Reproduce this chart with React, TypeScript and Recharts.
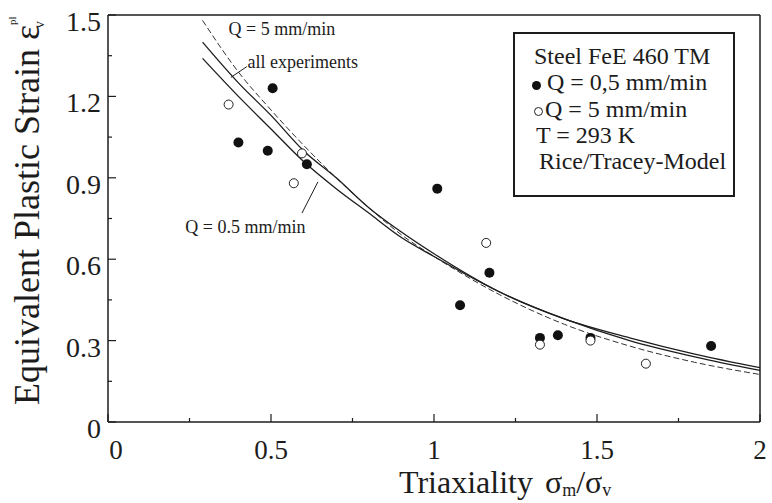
import { ComposedChart, Line, Scatter, XAxis, YAxis, ReferenceLine, ReferenceDot } from "recharts"

// fitted Rice/Tracey curves
const curveX = [0.29, 0.4, 0.5, 0.6, 0.7, 0.8, 0.9, 1.0, 1.2, 1.4, 1.6, 1.8, 2.0]
const fitAll = [1.4, 1.25, 1.13, 1.0, 0.9, 0.79, 0.7, 0.62, 0.48, 0.38, 0.31, 0.25, 0.2]
const fitQ05 = [1.34, 1.2, 1.08, 0.96, 0.86, 0.77, 0.68, 0.61, 0.48, 0.38, 0.3, 0.24, 0.19]
const fitQ5 = [1.48, 1.29, 1.15, 1.02, 0.9, 0.79, 0.69, 0.61, 0.47, 0.36, 0.28, 0.22, 0.175]

// measured points
const q05X = [0.4, 0.49, 0.505, 0.61, 1.01, 1.08, 1.17, 1.325, 1.38, 1.48, 1.85]
const q05Y = [1.03, 1.0, 1.23, 0.95, 0.86, 0.43, 0.55, 0.31, 0.32, 0.31, 0.28]
const q5X = [0.37, 0.57, 0.595, 1.16, 1.325, 1.48, 1.65]
const q5Y = [1.17, 0.88, 0.99, 0.66, 0.285, 0.3, 0.215]

const xTicks = [0, 0.25, 0.5, 0.75, 1, 1.25, 1.5, 1.75, 2]
const xLabels = [0, 0.5, 1, 1.5, 2]
const yTicks = [0, 0.15, 0.3, 0.45, 0.6, 0.75, 0.9, 1.05, 1.2, 1.35, 1.5]
const yLabels = [0, 0.3, 0.6, 0.9, 1.2, 1.5]

const notes = [
  { x: 0.37, y: 1.45, text: "Q = 5 mm/min" },
  { x: 0.428, y: 1.325, text: "all experiments" },
  { x: 0.237, y: 0.72, text: "Q = 0.5 mm/min" },
]
const leaders = [
  [{ x: 0.426, y: 1.31 }, { x: 0.377, y: 1.27 }],
  [{ x: 0.595, y: 0.77 }, { x: 0.644, y: 0.885 }],
]

const legendLines = ["Steel FeE 460 TM", "Q = 0,5 mm/min", "Q = 5 mm/min", "T = 293 K", "Rice/Tracey-Model"]

const serif = "'Liberation Serif', 'Times New Roman', serif"
const ink = "#1c1c1c"

const toPts = (xs: number[], ys: number[]) => xs.map((x, i) => ({ x, y: ys[i] }))
const isLabel = (list: number[], v: number) => list.some((l) => Math.abs(l - v) < 1e-6)

const XTick = ({ x, y, payload }: any) => {
  const v = payload.value
  const major = isLabel(xLabels, v)
  return (
    <g>
      <line x1={x} x2={x} y1={y} y2={y - (major ? 8 : 4)} stroke={ink} strokeWidth={1.2} />
      {major && (
        <text x={x + (v === 0 ? 8 : 0)} y={y + 37} textAnchor="middle" fontFamily={serif} fontSize={27} fill={ink}>
          {String(v)}
        </text>
      )}
    </g>
  )
}

const YTick = ({ x, y, payload }: any) => {
  const v = payload.value
  const major = isLabel(yLabels, v)
  return (
    <g>
      <line x1={x} x2={x + (major ? 8 : 4)} y1={y} y2={y} stroke={ink} strokeWidth={1.2} />
      {major && (
        <text x={x - 7} y={y + 16} textAnchor="end" fontFamily={serif} fontSize={28} fill={ink}>
          {String(v)}
        </text>
      )}
    </g>
  )
}

const XTitle = ({ viewBox }: any) => (
  <text x={viewBox.x + 291} y={viewBox.y + 71} fontFamily={serif} fontSize={32} fill={ink}>
    Triaxiality
    <tspan dx={12}>σ</tspan>
    <tspan fontSize={18} dy={3}>m</tspan>
    <tspan dy={-3}>/σ</tspan>
    <tspan fontSize={18} dy={3}>v</tspan>
  </text>
)

const YTitle = ({ viewBox }: any) => {
  const bx = viewBox.x + 39
  const by = viewBox.y + viewBox.height - 17
  return (
    <text x={bx} y={by} transform={`rotate(-90, ${bx}, ${by})`} fontFamily={serif} fontSize={36} fill={ink}>
      Equivalent Plastic Strain ε
      <tspan fontSize={11} dy={-23}>pl</tspan>
      <tspan fontSize={15} dx={-12} dy={28}>v</tspan>
    </text>
  )
}

const FilledDot = ({ cx, cy }: any) => <circle cx={cx} cy={cy} r={5} fill="#111" />
const OpenDot = ({ cx, cy }: any) => <circle cx={cx} cy={cy} r={4.5} fill="#fff" stroke="#222" strokeWidth={1} />

export default function App() {
  return (
    <div style={{ position: "absolute", left: 0, top: 0, width: 772, height: 503, background: "#fff" }}>
      <ComposedChart width={772} height={503} margin={{ top: 15, right: 12, bottom: 0, left: 0 }}>
        <XAxis
          type="number"
          dataKey="x"
          domain={[0, 2]}
          ticks={xTicks}
          interval={0}
          height={81}
          tickSize={0}
          tickMargin={0}
          tickLine={false}
          tick={<XTick />}
          stroke={ink}
          strokeWidth={1.5}
          label={XTitle}
        />
        <YAxis
          type="number"
          domain={[0, 1.5]}
          ticks={yTicks}
          interval={0}
          width={108}
          tickSize={0}
          tickMargin={0}
          tickLine={false}
          tick={<YTick />}
          stroke={ink}
          strokeWidth={1.5}
          label={YTitle}
        />
        <ReferenceLine y={1.5} stroke={ink} strokeWidth={1.5} />
        <ReferenceLine x={2} stroke={ink} strokeWidth={1.5} />

        <Line data={toPts(curveX, fitQ5)} dataKey="y" type="monotone" stroke="#333" strokeWidth={1} strokeDasharray="6 3" dot={false} isAnimationActive={false} />
        <Line data={toPts(curveX, fitAll)} dataKey="y" type="monotone" stroke={ink} strokeWidth={1.3} dot={false} isAnimationActive={false} />
        <Line data={toPts(curveX, fitQ05)} dataKey="y" type="monotone" stroke={ink} strokeWidth={1.3} dot={false} isAnimationActive={false} />

        <Scatter data={toPts(q05X, q05Y)} dataKey="y" shape={<FilledDot />} isAnimationActive={false} />
        <Scatter data={toPts(q5X, q5Y)} dataKey="y" shape={<OpenDot />} isAnimationActive={false} />

        {leaders.map((seg, i) => (
          <ReferenceLine key={`lead-${i}`} segment={seg} stroke={ink} strokeWidth={1} />
        ))}
        {notes.map((n) => (
          <ReferenceDot
            key={n.text}
            x={n.x}
            y={n.y}
            r={0}
            stroke="none"
            fill="none"
            label={({ viewBox }: any) => (
              <text x={viewBox.x} y={viewBox.y + 6} fontFamily={serif} fontSize={18} fill={ink}>
                {n.text}
              </text>
            )}
          />
        ))}
      </ComposedChart>

      <div
        style={{
          position: "absolute",
          left: 513,
          top: 32,
          width: 222,
          height: 165,
          boxSizing: "border-box",
          border: `2.5px solid ${ink}`,
          fontFamily: serif,
          fontSize: 24,
          color: ink,
          background: "#fff",
        }}
      >
        {legendLines.map((t, i) => (
          <div
            key={t}
            style={{
              position: "absolute",
              left: [19, 32, 30, 21, 24][i],
              top: 9 + i * 26.3,
              lineHeight: "26px",
              whiteSpace: "nowrap",
            }}
          >
            {t}
          </div>
        ))}
        <span style={{ position: "absolute", left: 17, top: 47, width: 9, height: 9, borderRadius: "50%", background: "#111" }} />
        <span style={{ position: "absolute", left: 19, top: 73, width: 7, height: 7, borderRadius: "50%", border: "1px solid #222" }} />
      </div>
    </div>
  )
}
